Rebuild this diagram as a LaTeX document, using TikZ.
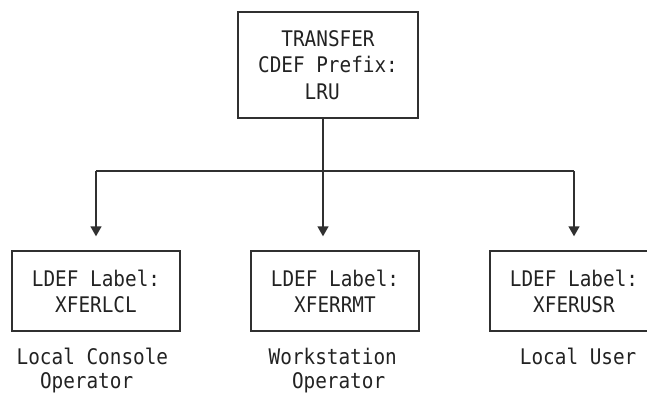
\documentclass[tikz,border=0pt]{standalone}
\usepackage{fontspec}
\newfontfamily\diagfont{DejaVu Sans Mono}[FakeStretch=0.9]
\usetikzlibrary{arrows.meta}
\definecolor{ink}{HTML}{222222}
\definecolor{linec}{HTML}{303030}
\begin{document}
\begin{tikzpicture}[x=1pt,y=-1pt,
  every node/.style={font=\diagfont\fontsize{21.5}{26}\selectfont, text=ink},
  box/.style={draw=linec, line width=1.4pt, inner sep=0pt, align=center,
              minimum width=168pt, minimum height=80pt},
  lab/.style={anchor=base west, inner sep=0pt},
  conn/.style={draw=linec, line width=1.4pt},
  arr/.style={conn, -{Triangle[length=10pt,width=11pt]}, shorten >=14pt}]
\useasboundingbox (0,0) rectangle (647,394);
\clip (0,0) rectangle (647,394);
% boxes
\node[box, minimum width=180pt, minimum height=106pt,
      font=\diagfont\fontsize{21.5}{26.5}\selectfont] (top) at (328,65)
  {TRANSFER\\CDEF Prefix:\\LRU\hphantom{X}};
\node[box] (lcl) at (96,291) {LDEF Label:\\XFERLCL};
\node[box] (rmt) at (335,291) {LDEF Label:\\XFERRMT};
\node[box] (usr) at (574,291) {LDEF Label:\\XFERUSR};
% labels
\node[lab, font=\diagfont\fontsize{21.5}{24}\selectfont] (llcl) at (16.5,364)
  {\begin{tabular}[t]{@{}l@{}}Local Console\\\hphantom{Lo}Operator\end{tabular}};
\node[lab, font=\diagfont\fontsize{21.5}{24}\selectfont] (lrmt) at (268.5,364)
  {\begin{tabular}[t]{@{}l@{}}Workstation\\\hphantom{Wo}Operator\end{tabular}};
\node[lab] (lusr) at (519.7,364) {Local User};
% connectors
\coordinate (jl) at (96,171);
\coordinate (jm) at (323,171);
\coordinate (jr) at (574,171);
\draw[conn] (top.south -| jm) -- (jm);
\draw[conn] (jl) -- (jr);
\draw[arr] (jl) -- (jl |- lcl.north);
\draw[arr] (jm) -- (jm |- rmt.north);
\draw[arr] (jr) -- (jr |- usr.north);
\end{tikzpicture}
\end{document}
